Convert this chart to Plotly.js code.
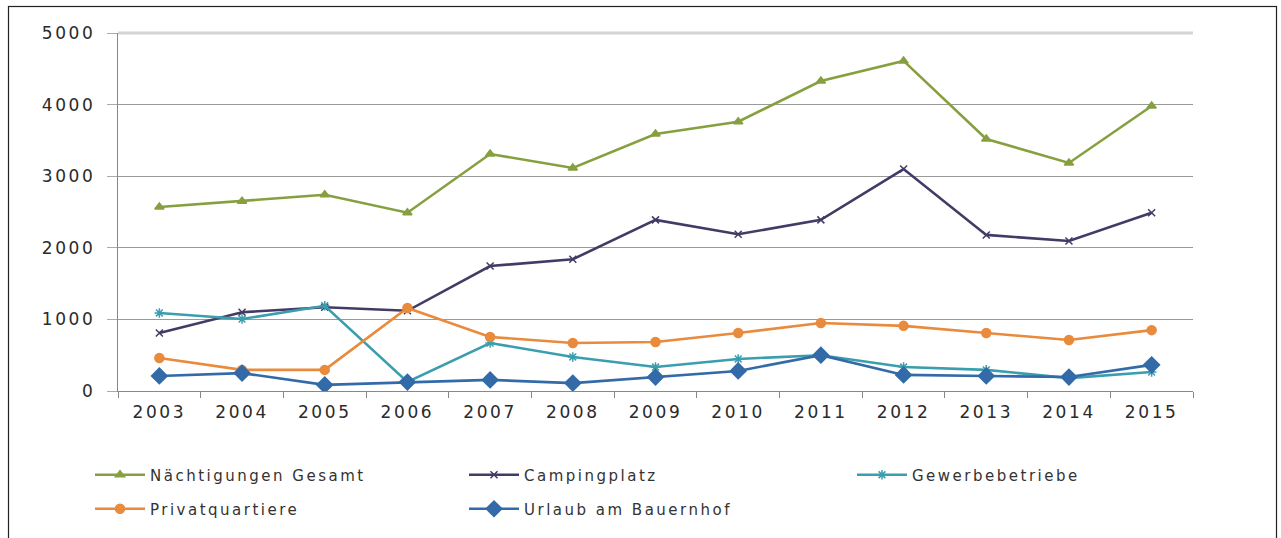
<!DOCTYPE html>
<html>
<head>
<meta charset="utf-8">
<script src="https://cdn.plot.ly/plotly-3.0.1.min.js"></script>
<style>
html,body{margin:0;padding:0;background:#fff;}
#chart{width:1281px;height:538px;}
.xtick text, .ytick text {letter-spacing: 2.6px;}
.infolayer text {letter-spacing: 2.5px;}
</style>
</head>
<body>
<div id="chart"></div>
<script>
const years = ["2003","2004","2005","2006","2007","2008","2009","2010","2011","2012","2013","2014","2015"];
const gesamt = [2570, 2650, 2740, 2490, 3310, 3115, 3590, 3760, 4330, 4610, 3520, 3185, 3980];
const camping = [810, 1100, 1170, 1120, 1745, 1840, 2390, 2190, 2390, 3100, 2180, 2095, 2490];
const gewerbe = [1090, 1005, 1190, 125, 670, 475, 335, 447, 500, 335, 295, 180, 265];
const privat = [460, 295, 295, 1160, 755, 670, 685, 810, 950, 910, 810, 712, 850];
const bauernhof = [210, 250, 85, 125, 155, 110, 195, 280, 500, 225, 210, 195, 365];
const yTicks = [0, 1000, 2000, 3000, 4000, 5000];

const series = [
  {name: "Nächtigungen Gesamt", y: gesamt, color: "#86a040", symbol: "triangle-up", size: 8, legend: "legend", lx: 90, ly: 475},
  {name: "Campingplatz", y: camping, color: "#433a66", symbol: "x-thin-open", size: 7, legend: "legend2", lx: 464, ly: 475},
  {name: "Gewerbebetriebe", y: gewerbe, color: "#3a9eae", symbol: "asterisk-open", size: 8, legend: "legend3", lx: 852, ly: 475},
  {name: "Privatquartiere", y: privat, color: "#e98a3c", symbol: "circle", size: 9, legend: "legend4", lx: 90, ly: 509},
  {name: "Urlaub am Bauernhof", y: bauernhof, color: "#336aa8", symbol: "diamond", size: 12, legend: "legend5", lx: 464, ly: 509}
];
const traces = series.map(s => ({
  type: "scatter", mode: "lines+markers", name: s.name, x: years, y: s.y, legend: s.legend,
  line: {color: s.color, width: 2.6},
  marker: {color: s.color, symbol: s.symbol, size: s.size, line: {color: s.color, width: 1.5}}
}));

const layout = {
  width: 1281, height: 538,
  margin: {l: 118, r: 88, t: 33, b: 147, autoexpand: false},
  paper_bgcolor: "#ffffff", plot_bgcolor: "#ffffff",
  font: {family: "DejaVu Sans, Verdana, sans-serif", color: "#333333"},
  showlegend: true,
  xaxis: {
    type: "category", tickson: "boundaries", ticks: "outside", ticklen: 6, tickcolor: "#888",
    showline: true, linecolor: "#888", linewidth: 1.2, showgrid: false,
    tickfont: {size: 17, color: "#2a2a2a"}, ticklabelstandoff: 5,
    range: [-0.5, 12.5], fixedrange: true
  },
  yaxis: {
    range: [0, 5000], tickvals: yTicks, ticktext: yTicks.map(String),
    showgrid: true, gridcolor: "#9a9a9a", gridwidth: 1.2,
    showline: true, linecolor: "#888", linewidth: 1.2, zeroline: false,
    ticks: "outside", ticklen: 10, tickcolor: "#aaa",
    tickfont: {size: 17, color: "#2a2a2a"}, ticklabelstandoff: 8, fixedrange: true
  },
  shapes: [
    {type: "line", xref: "paper", yref: "paper", x0: 0, x1: 1, y0: 1, y1: 1, line: {color: "#d4d4d4", width: 3}}
  ]
};
series.forEach(s => {
  layout[s.legend] = {
    orientation: "h", xref: "container", yref: "container",
    x: s.lx / 1281, y: 1 - s.ly / 538, xanchor: "left", yanchor: "middle",
    itemwidth: 50, entrywidth: 300, entrywidthmode: "pixels",
    font: {size: 15, color: "#333", family: "DejaVu Sans, Verdana, sans-serif"},
    bgcolor: "rgba(0,0,0,0)"
  };
});

Plotly.newPlot("chart", traces, layout, {displayModeBar: false, staticPlot: true}).then(gd => {
  const svg = gd.querySelector(".main-svg");
  const ns = "http://www.w3.org/2000/svg";
  const r = document.createElementNS(ns, "rect");
  r.setAttribute("x", 8.5); r.setAttribute("y", 6.5);
  r.setAttribute("width", 1268); r.setAttribute("height", 540);
  r.setAttribute("fill", "none"); r.setAttribute("stroke", "#222"); r.setAttribute("stroke-width", 1.2);
  svg.appendChild(r);
});
</script>
</body>
</html>
